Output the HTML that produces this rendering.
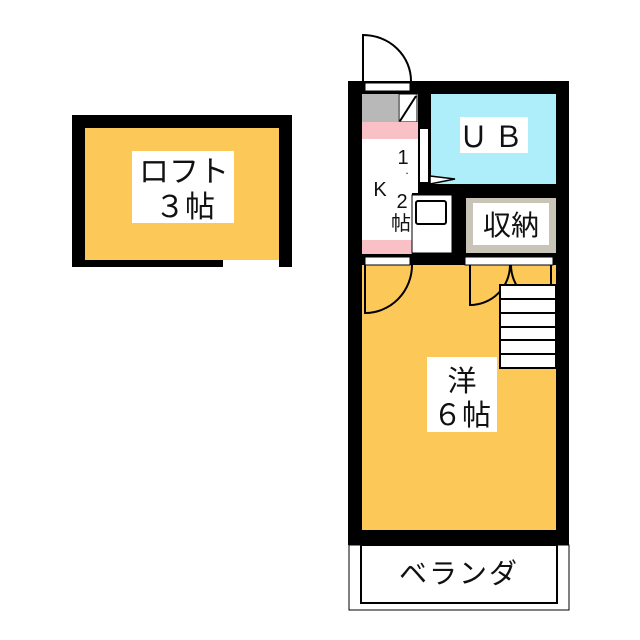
<!DOCTYPE html><html><head><meta charset="utf-8"><style>
body{margin:0;background:#fff}
svg{display:block}
text{font-family:"Liberation Sans","Noto Sans CJK JP",sans-serif;fill:#111}
</style></head><body>
<svg width="640" height="640" viewBox="0 0 640 640">
<rect x="72" y="115" width="220" height="152" fill="#000"/>
<rect x="85" y="128" width="194" height="132" fill="#fcc858"/>
<rect x="223" y="260" width="56" height="7" fill="#fff"/>
<rect x="132" y="151" width="102" height="72" fill="#fff"/>
<text x="184" y="182" font-size="30" text-anchor="middle">ロフト</text>
<text x="185" y="217" font-size="30" text-anchor="middle">３帖</text>
<rect x="348" y="81" width="221" height="464" fill="#000"/>
<rect x="365" y="83" width="45" height="8" fill="#fff" stroke="#000" stroke-width="1"/>
<path d="M363 81 V35 A48 46 0 0 1 411 81" fill="#fff" stroke="#000" stroke-width="2"/>
<rect x="431" y="94" width="125" height="90" fill="#aeeefa"/>
<rect x="460" y="117" width="68" height="36" fill="#fff"/>
<text x="494" y="147" font-size="29" text-anchor="middle" letter-spacing="6">ＵＢ</text>
<rect x="362" y="94" width="56" height="99" fill="#fff"/>
<rect x="362" y="193" width="50" height="60" fill="#fff"/>
<rect x="362" y="94" width="36" height="28" fill="#b8b8b8"/>
<rect x="399" y="94" width="18" height="28" fill="#fff" stroke="#000" stroke-width="1"/>
<line x1="400" y1="121" x2="416" y2="96" stroke="#000" stroke-width="2"/>
<rect x="362" y="122" width="56" height="17" fill="#f9c0c6"/>
<rect x="362" y="240" width="50" height="14" fill="#f9c0c6"/>
<rect x="420" y="129" width="8" height="53" fill="#fff"/>
<path d="M430 176 L455 179 L430 184 Z" fill="#fff" stroke="#000" stroke-width="1.5"/>
<rect x="412" y="195" width="40" height="58" fill="#fff" stroke="#000" stroke-width="1"/>
<rect x="416" y="201" width="30" height="23" rx="2" fill="#fff" stroke="#000" stroke-width="2"/>
<text x="403" y="164" font-size="20" text-anchor="middle">1</text>
<text x="407" y="174" font-size="12" text-anchor="middle">.</text>
<text x="380" y="196" font-size="20" text-anchor="middle">K</text>
<text x="402" y="208" font-size="20" text-anchor="middle">2</text>
<text x="401" y="230" font-size="20" text-anchor="middle">帖</text>
<rect x="466" y="198" width="90" height="55" fill="#c8c4b8"/>
<rect x="473" y="203" width="76" height="42" fill="#fff"/>
<text x="511" y="235" font-size="28" text-anchor="middle">収納</text>
<rect x="362" y="265" width="194" height="265" fill="#fcc858"/>
<rect x="365" y="257" width="45" height="8" fill="#fff" stroke="#000" stroke-width="1"/>
<rect x="465" y="257" width="88" height="8" fill="#fff" stroke="#000" stroke-width="1"/>
<path d="M365 265 V313 A47 48 0 0 0 412 265" fill="none" stroke="#000" stroke-width="2"/>
<path d="M470 265 V305 A40 40 0 0 0 510 265" fill="none" stroke="#000" stroke-width="2"/>
<path d="M551 265 V305 A40 40 0 0 1 511 265" fill="none" stroke="#000" stroke-width="2"/>
<rect x="500" y="285" width="56" height="83" fill="#fff" stroke="#000" stroke-width="2"/>
<g stroke="#000" stroke-width="2"><line x1="500" y1="299" x2="556" y2="299"/><line x1="500" y1="313" x2="556" y2="313"/><line x1="500" y1="327" x2="556" y2="327"/><line x1="500" y1="340" x2="556" y2="340"/><line x1="500" y1="354" x2="556" y2="354"/></g>
<rect x="427" y="357" width="70" height="75" fill="#fff"/>
<text x="462" y="391" font-size="29" text-anchor="middle">洋</text>
<text x="462" y="425" font-size="29" text-anchor="middle">６帖</text>
<rect x="349" y="545" width="220" height="65" fill="#fff" stroke="#000" stroke-width="1"/>
<rect x="361" y="545" width="196" height="58" fill="#fff" stroke="#000" stroke-width="2"/>
<text x="459" y="583" font-size="28" text-anchor="middle" letter-spacing="2">ベランダ</text>
</svg>
</body></html>
